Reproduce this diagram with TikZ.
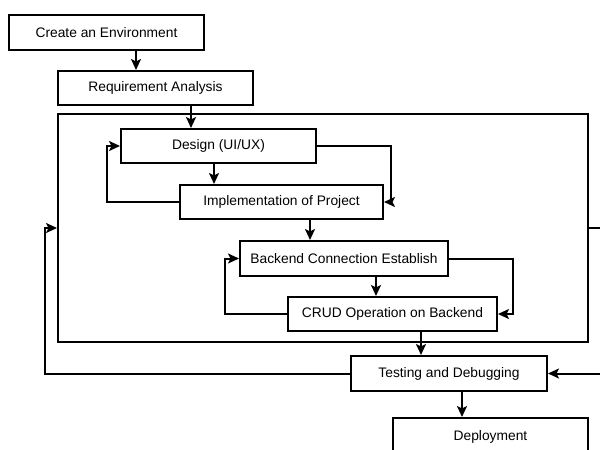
\documentclass[tikz,border=0pt]{standalone}
\usepackage{fontspec}
\setmainfont{Liberation Sans}
\usetikzlibrary{arrows.meta}
\begin{document}
\begin{tikzpicture}[x=1pt,y=-1pt,
  box/.style={draw,line width=2pt,fill=white,inner sep=0pt,font=\fontsize{13.8}{16}\selectfont},
  arr/.style={line width=2pt,-{Stealth[length=11pt,width=10pt,inset=2.5pt]}}]
\clip (0,0) rectangle (600,450);
\useasboundingbox (0,0) rectangle (600,450);
\fill[white] (0,0) rectangle (600,450);
\node[box,minimum width=530pt,minimum height=228pt] (cont) at (323,228) {};
\node[box,minimum width=195pt,minimum height=35pt] (env) at (106.5,32.5) {Create an Environment};
\node[box,minimum width=195pt,minimum height=34pt] (req) at (155.5,88) {Requirement Analysis};
\node[box,minimum width=195pt,minimum height=34pt] (design) at (218.5,146) {Design (UI/UX)};
\node[box,minimum width=203pt,minimum height=34pt] (impl) at (281.5,202) {Implementation of Project};
\node[box,minimum width=208pt,minimum height=35pt] (back) at (344,258.5) {Backend Connection Establish};
\node[box,minimum width=209pt,minimum height=34pt] (crud) at (392.5,314) {CRUD Operation on Backend};
\node[box,minimum width=196pt,minimum height=35pt] (test) at (449,373.5) {Testing and Debugging};
\node[box,minimum width=195pt,minimum height=38pt] (deploy) at (490.5,437) {Deployment};
\coordinate (lx) at (45,0);
\coordinate (rx) at (612,0);
\coordinate (a1) at (136,0);
\coordinate (a2) at (191,0);
\coordinate (a3) at (214,0);
\coordinate (a4) at (310,0);
\coordinate (a5) at (376,0);
\coordinate (a6) at (421,0);
\coordinate (a7) at (462,0);
\draw[arr] (env.south -| a1) -- (req.north -| a1);
\draw[arr] (req.south -| a2) -- (design.north -| a2);
\draw[arr] (design.south -| a3) -- (impl.north -| a3);
\draw[arr] (impl.south -| a4) -- (back.north -| a4);
\draw[arr] (back.south -| a5) -- (crud.north -| a5);
\draw[arr] (crud.south -| a6) -- (test.north -| a6);
\draw[arr] (test.south -| a7) -- (deploy.north -| a7);
\draw[arr] (impl.west) -- ++(-72,0) |- (design.west);
\draw[arr] (design.east) -- ++(74,0) |- (impl.east);
\draw[arr] (crud.west) -- ++(-62,0) |- (back.west);
\draw[arr] (back.east) -- ++(64,0) |- (crud.east);
\draw[arr] (test.west) -- (test.west -| lx) |- (cont.west);
\draw[arr] (cont.east) -- (cont.east -| rx) |- (test.east);
\end{tikzpicture}
\end{document}
